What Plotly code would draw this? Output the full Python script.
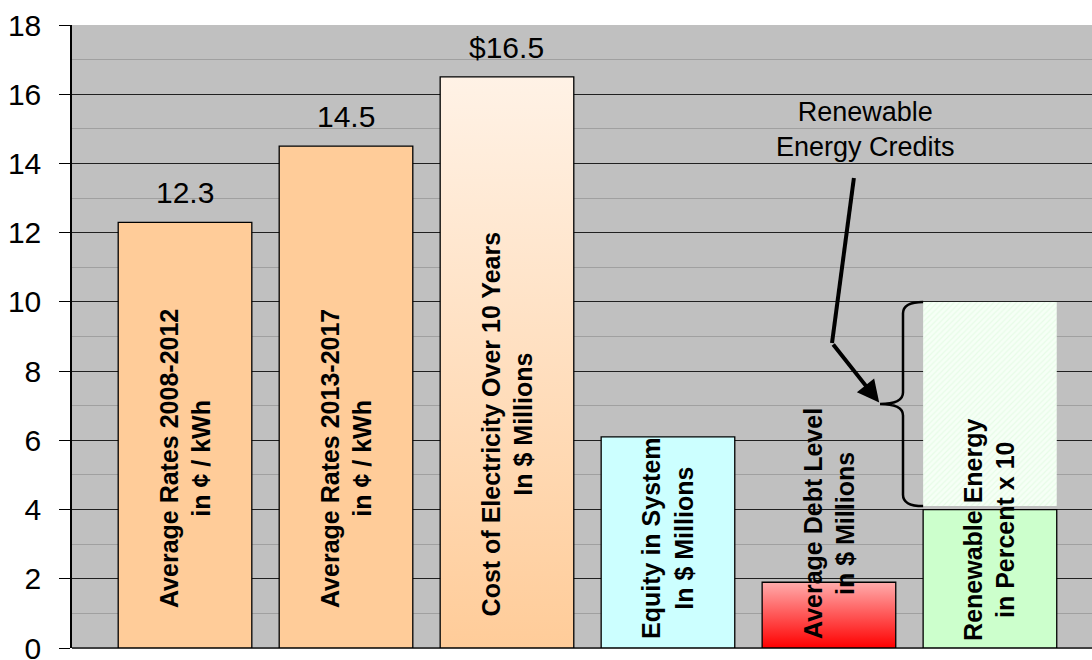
import plotly.graph_objects as go

# ---- data -------------------------------------------------------------
positions = [0, 1, 2, 3, 4, 5]
values = [12.3, 14.5, 16.5, 6.1, 1.9, 4.0]
label_prefix = ["", "", "$", None, None, None]   # None -> no value label
bar_titles = [
    "Average Rates 2008-2012<br>in ¢ / kWh",
    "Average Rates 2013-2017<br>in ¢ / kWh",
    "Cost of Electricity Over 10 Years<br>In $ Millions",
    "Equity in System<br>In $ Millions",
    "Average Debt Level<br>in $ Millions",
    "Renewable Energy<br>in Percent x 10",
]
title_centers = [5.46, 5.46, 6.46, 3.18, 3.61, 3.41]   # y of rotated caption centre
solid_colors = ["#FFCC99", "#FFCC99", None, "#CCFFFF", None, "#CCFFCC"]
gradient_colors = {2: ("#FFCC99", "#FFF2E6"), 4: ("#FF0000", "#FFACAC")}  # (bottom, top)

# renewable energy credits stacked above the renewable bar
rec_base = 4.1
rec_top = 10.0
rec_label = "Renewable<br>Energy Credits"

y_ticks = [0, 2, 4, 6, 8, 10, 12, 14, 16, 18]

BAR_W = 0.83
FONT = "Liberation Sans, Arial, sans-serif"

fig = go.Figure()

# solid bars
solid_idx = [i for i, c in enumerate(solid_colors) if c]
fig.add_trace(go.Bar(
    x=[positions[i] for i in solid_idx],
    y=[values[i] for i in solid_idx],
    width=BAR_W,
    marker=dict(color=[solid_colors[i] for i in solid_idx],
                line=dict(color="black", width=1.3)),
    hoverinfo="skip", showlegend=False,
))

# hatched renewable energy credits block
fig.add_trace(go.Bar(
    x=[positions[5]], y=[rec_top - rec_base], base=[rec_base],
    width=BAR_W,
    marker=dict(color="#F4FFF4",
                pattern=dict(shape="/", fgcolor="#D8F8D8", bgcolor="#F6FFF6",
                             size=4, solidity=0.3),
                line=dict(width=0)),
    hoverinfo="skip", showlegend=False,
))

# gradient-filled bars
for i, (c_bot, c_top) in gradient_colors.items():
    x0, x1 = positions[i] - BAR_W / 2, positions[i] + BAR_W / 2
    v = values[i]
    fig.add_trace(go.Scatter(
        x=[x0, x0, x1, x1, x0], y=[0, v, v, 0, 0],
        mode="lines", fill="toself",
        fillgradient=dict(type="vertical", start=0, stop=v,
                          colorscale=[[0, c_bot], [1, c_top]]),
        line=dict(color="black", width=1.3),
        hoverinfo="skip", showlegend=False,
    ))

annotations = []
# value labels above bars
for i, p in enumerate(label_prefix):
    if p is None:
        continue
    annotations.append(dict(
        x=positions[i], y=values[i], xref="x", yref="y",
        text=f"{p}{values[i]}", showarrow=False,
        yanchor="bottom", yshift=11,
        font=dict(family=FONT, size=30, color="black"),
    ))

# rotated captions inside bars
for i, t in enumerate(bar_titles):
    annotations.append(dict(
        x=positions[i], y=title_centers[i], xref="x", yref="y",
        text=f"<b>{t}</b>", showarrow=False, textangle=-90,
        xanchor="center", yanchor="middle",
        font=dict(family=FONT, size=25, color="black"),
    ))

# brace and arrow geometry for the credits call-out
bar_left = positions[5] - BAR_W / 2
x_vert = bar_left - 0.125
x_point = bar_left - 0.268
y_mid = (rec_base + rec_top) / 2
r = 0.33
arrow_start = (x_point - 0.162, 13.58)
arrow_bend = (x_point - 0.298, 8.81)

annotations.append(dict(
    x=x_point - 0.087, y=14.97, xref="x", yref="y",
    text=rec_label, showarrow=False,
    font=dict(family=FONT, size=27, color="black"),
))
annotations.append(dict(
    x=x_point - 0.005, y=y_mid + 0.04, xref="x", yref="y",
    ax=arrow_bend[0], ay=arrow_bend[1], axref="x", ayref="y",
    text="", showarrow=True, arrowhead=2, arrowsize=1.1,
    arrowwidth=4, arrowcolor="black", standoff=0,
))

brace = (
    f"M {bar_left},{rec_top} Q {x_vert},{rec_top} {x_vert},{rec_top - r} "
    f"L {x_vert},{y_mid + r} Q {x_vert},{y_mid} {x_point},{y_mid} "
    f"Q {x_vert},{y_mid} {x_vert},{y_mid - r} "
    f"L {x_vert},{rec_base + r} Q {x_vert},{rec_base} {bar_left},{rec_base}"
)
shapes = [
    dict(type="path", path=brace, xref="x", yref="y",
         line=dict(color="black", width=2.5), layer="above"),
    dict(type="line", xref="x", yref="y",
         x0=arrow_start[0], y0=arrow_start[1],
         x1=arrow_bend[0], y1=arrow_bend[1],
         line=dict(color="black", width=4), layer="above"),
]

fig.update_layout(
    width=1092, height=660,
    margin=dict(l=72, r=0, t=25, b=12, autoexpand=False),
    paper_bgcolor="white", plot_bgcolor="#C0C0C0",
    barmode="overlay",
    annotations=annotations, shapes=shapes,
    font=dict(family=FONT, color="black"),
)
fig.update_xaxes(
    range=[-0.702, 5.634], showticklabels=False, showgrid=False,
    zeroline=False, showline=False, fixedrange=True, automargin=False,
)
fig.update_yaxes(
    range=[0, 18], tickvals=y_ticks, ticks="outside", ticklen=11,
    tickcolor="black", tickwidth=1, ticklabelstandoff=12,
    ticklabeloverflow="allow", automargin=False,
    tickfont=dict(family=FONT, size=30, color="black"),
    showgrid=True, gridcolor="#202020", gridwidth=1,
    minor=dict(dtick=1, showgrid=True, gridcolor="#A0A0A0", gridwidth=1),
    showline=True, linecolor="black", linewidth=1.5,
    zeroline=True, zerolinecolor="#404040", zerolinewidth=2,
    fixedrange=True,
)

fig.write_html("out.html")
